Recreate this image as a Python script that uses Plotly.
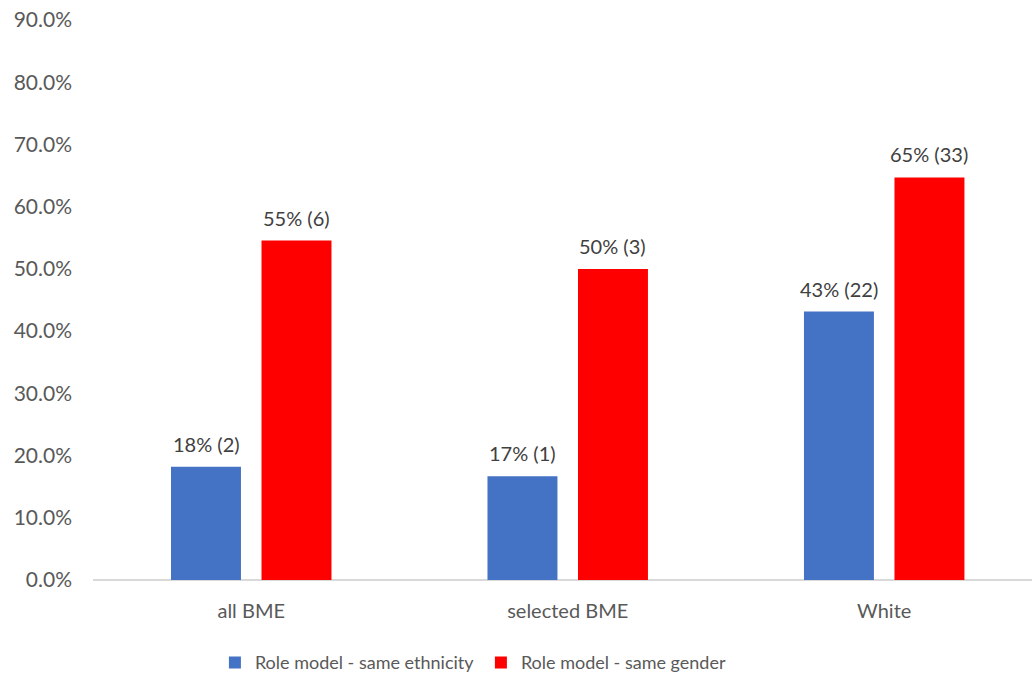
import plotly.graph_objects as go

# Groups and respondent counts
categories = ["all BME", "selected BME", "White"]
group_sizes = [11, 6, 51]
ethnicity_counts = [2, 1, 22]
gender_counts = [6, 3, 33]

series_names = ["Role model - same ethnicity", "Role model - same gender"]
series_colors = ["#4472C4", "#FF0000"]

y_tick_values = [0.0, 0.1, 0.2, 0.3, 0.4, 0.5, 0.6, 0.7, 0.8, 0.9]


def shares(counts, sizes):
    return [c / n for c, n in zip(counts, sizes)]


def labels(counts, sizes):
    return [f"{round(100 * c / n)}% ({c})" for c, n in zip(counts, sizes)]


FONT = "Lato, Calibri, 'Open Sans', sans-serif"
TEXT_DARK = "#404040"
TEXT_GREY = "#595959"

fig = go.Figure()
annotations = []
# horizontal pixel offset of each series' label from the category centre
label_shifts = [-45, 45]
for name, color, counts, dx in zip(series_names, series_colors,
                                   [ethnicity_counts, gender_counts], label_shifts):
    values = shares(counts, group_sizes)
    fig.add_trace(go.Bar(
        x=categories,
        y=values,
        name=name,
        marker=dict(color=color, line=dict(width=0)),
        hovertemplate="%{x}: %{y:.1%}<extra></extra>",
    ))
    for cat, v, txt in zip(categories, values, labels(counts, group_sizes)):
        annotations.append(dict(
            x=cat, y=v, xref="x", yref="y",
            text=txt, showarrow=False,
            xanchor="center", yanchor="bottom",
            xshift=dx, yshift=9,
            font=dict(family=FONT, size=20, color=TEXT_DARK),
        ))

fig.update_layout(
    width=1032,
    height=679,
    margin=dict(l=93, r=0, t=20, b=99),
    paper_bgcolor="white",
    plot_bgcolor="white",
    barmode="group",
    bargap=0.428,
    bargroupgap=0.227,
    font=dict(family=FONT, size=18, color=TEXT_GREY),
    annotations=annotations,
    xaxis=dict(
        range=[-0.5, 2.467],
        showgrid=False,
        showline=False,
        ticks="",
        tickfont=dict(family=FONT, size=20, color=TEXT_GREY),
        ticklabelstandoff=17,
    ),
    yaxis=dict(
        range=[0, 0.9],
        tickvals=y_tick_values,
        tickformat=".1%",
        showgrid=False,
        zeroline=True,
        zerolinecolor="#D9D9D9",
        zerolinewidth=1.5,
        showline=False,
        ticks="",
        tickfont=dict(family=FONT, size=21, color=TEXT_GREY),
        ticklabelstandoff=20,
    ),
    legend=dict(
        orientation="h",
        xref="container",
        yref="container",
        x=0.466,
        y=0.024,
        xanchor="center",
        yanchor="middle",
        font=dict(family=FONT, size=18, color=TEXT_GREY),
        itemwidth=30,
        entrywidth=221,
        entrywidthmode="pixels",
        traceorder="normal",
    ),
    showlegend=True,
)

fig.write_html("out.html")
